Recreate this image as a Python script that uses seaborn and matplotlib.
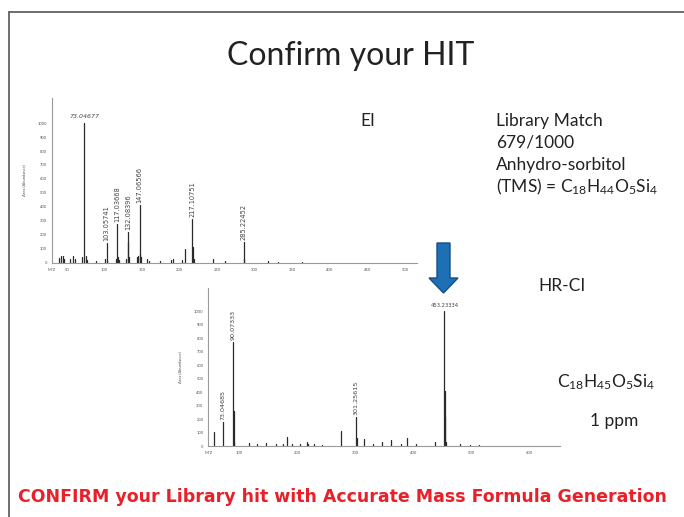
import matplotlib
matplotlib.use("Agg")
import matplotlib.pyplot as plt
import seaborn as sns
import pandas as pd
from matplotlib.patches import FancyArrow
from matplotlib.lines import Line2D

# ---------------- data ----------------
ei_mz = [40, 43, 45, 47, 55, 59, 61, 70, 73.04677, 75, 77, 89, 101, 103.05741, 104,
         116, 117.03668, 118, 119, 129, 131, 132.08396, 133, 143, 145, 147.06566, 148,
         149, 157, 160, 174, 189, 191, 204, 207, 217.10751, 218, 219, 245, 260,
         285.22452, 286, 318, 331, 363]
ei_int = [35, 50, 45, 30, 30, 45, 25, 40, 1000, 45, 20, 15, 30, 140, 20,
          30, 280, 40, 20, 30, 150, 220, 40, 40, 50, 410, 60,
          40, 25, 15, 15, 20, 25, 20, 95, 310, 110, 30, 30, 10,
          150, 30, 10, 8, 5]
ei_labels_mz = [103.05741, 117.03668, 132.08396, 147.06566, 217.10751, 285.22452]
ei_labels = ["103.05741", "117.03668", "132.08396", "147.06566", "217.10751", "285.22452"]
ei_base_label = "73.04677"
ei_base_mz = 73.04677

ci_mz = [57, 73.04685, 90.07333, 91, 92, 117, 131, 147, 163, 175, 183, 191, 205,
         217, 219, 229, 243, 275, 301.25615, 302, 315, 331, 345, 362, 379, 388,
         405, 437, 453.23334, 454, 455, 456, 480, 498, 513]
ci_int = [108, 180, 770, 262, 30, 25, 20, 25, 15, 15, 70, 20, 20,
          35, 20, 15, 10, 115, 220, 60, 55, 15, 35, 45, 20, 60,
          15, 35, 1000, 410, 220, 30, 20, 10, 8]
ci_labels_mz = [73.04685, 90.07333, 301.25615]
ci_labels = ["73.04685", "90.07333", "301.25615"]
ci_base_label = "453.23334"
ci_base_mz = 453.23334

ei_xticks = [50, 100, 150, 200, 250, 300, 350, 400, 450, 500]
ci_xticks = [100, 200, 300, 400, 500, 600]
y_ticks = [0, 100, 200, 300, 400, 500, 600, 700, 800, 900, 1000]

title = "Confirm your HIT"
footer = "CONFIRM your Library hit with Accurate Mass Formula Generation"
library_lines = ["Library Match", "679/1000", "Anhydro-sorbitol",
                 r"(TMS) = C$_{18}$H$_{44}$O$_{5}$Si$_{4}$"]
ci_formula = r"C$_{18}$H$_{45}$O$_{5}$Si$_{4}$"

# ---------------- style ----------------
sns.set_style("white")
plt.rcParams["font.family"] = ["Lato", "DejaVu Sans"]
plt.rcParams["mathtext.fontset"] = "custom"
plt.rcParams["mathtext.rm"] = "Lato"
plt.rcParams["mathtext.it"] = "Lato:italic"
plt.rcParams["mathtext.bf"] = "Lato:bold"

W, H = 684, 517
fig = plt.figure(figsize=(W / 100, H / 100), dpi=100)
fig.patch.set_facecolor("white")


def px_axes(x0, y0, x1, y1):
    return fig.add_axes([x0 / W, 1 - y1 / H, (x1 - x0) / W, (y1 - y0) / H])


def sticks(mz, inten):
    rows = []
    for i, (m, v) in enumerate(zip(mz, inten)):
        rows.append({"mz": m, "int": 0, "peak": i})
        rows.append({"mz": m, "int": v, "peak": i})
    return pd.DataFrame(rows)


def style_spectrum(ax, xlim, ylim, xticks, ylab_x):
    ax.set_xlim(*xlim)
    ax.set_ylim(*ylim)
    for s in ["top", "right"]:
        ax.spines[s].set_visible(False)
    for s in ["left", "bottom"]:
        ax.spines[s].set_color("#9a9a9a")
        ax.spines[s].set_linewidth(0.8)
    ax.set_xticks([xlim[0]] + xticks)
    ax.set_xticklabels(["M/Z"] + [str(t) for t in xticks])
    ax.set_yticks(y_ticks)
    ax.set_yticklabels([str(t) for t in y_ticks])
    ax.tick_params(axis="both", labelsize=3, colors="#555555", length=2, width=0.5,
                   pad=1.5, direction="out")
    ax.set_xlabel("")
    ax.set_ylabel("Area (Abundance)", fontsize=3, color="#555555", labelpad=ylab_x)
    ax.set_facecolor("none")


# ---------------- EI spectrum ----------------
ax1 = px_axes(51.7, 98, 417, 262.7)
sns.lineplot(data=sticks(ei_mz, ei_int), x="mz", y="int", units="peak",
             estimator=None, sort=False, color="#2a2a2a", linewidth=0.9, ax=ax1)
style_spectrum(ax1, (30, 516), (0, 1180), ei_xticks, 8)
for m, lab in zip(ei_labels_mz, ei_labels):
    v = ei_int[ei_mz.index(m)]
    ax1.text(m, v + 15, lab, rotation=90, ha="center", va="bottom",
             fontsize=4.8, color="#444444", family="DejaVu Sans")
ax1.text(ei_base_mz, 1030, ei_base_label, ha="center", va="bottom",
         fontsize=4.5, color="#444444", style="italic", family="DejaVu Sans")

# ---------------- HR-CI spectrum ----------------
ax2 = px_axes(208.3, 288, 560, 446.3)
sns.lineplot(data=sticks(ci_mz, ci_int), x="mz", y="int", units="peak",
             estimator=None, sort=False, color="#2a2a2a", linewidth=0.9, ax=ax2)
style_spectrum(ax2, (47, 652), (0, 1170), ci_xticks, 8)
for m, lab in zip(ci_labels_mz, ci_labels):
    v = ci_int[ci_mz.index(m)]
    ax2.text(m, v + 15, lab, rotation=90, ha="center", va="bottom",
             fontsize=4.6, color="#444444", family="DejaVu Sans")
ax2.text(ci_base_mz, 1025, ci_base_label, ha="center", va="bottom",
         fontsize=3.8, color="#444444", family="DejaVu Sans")

# ---------------- overlay (slide decorations) ----------------
ov = fig.add_axes([0, 0, 1, 1])
ov.set_xlim(0, W)
ov.set_ylim(H, 0)
ov.axis("off")
ov.patch.set_alpha(0)

ov.add_line(Line2D([9, 9], [12, H + 2], color="#555555", linewidth=1.2))
ov.add_line(Line2D([9, W + 2], [12, 12], color="#555555", linewidth=1.2))

ov.text(351, 56, title, ha="center", va="center", fontsize=23, color="#222222")

ov.text(368, 121, "EI", ha="center", va="center", fontsize=12.5, color="#222222")
for i, line in enumerate(library_lines):
    ov.text(496, 121 + i * 22, line, ha="left", va="center", fontsize=12.5,
            color="#222222")
ov.text(538, 286, "HR-CI", ha="left", va="center", fontsize=12.5, color="#222222")
ov.text(557, 382, ci_formula, ha="left", va="center", fontsize=12.5, color="#222222")
ov.text(590, 421, "1 ppm", ha="left", va="center", fontsize=12.5, color="#222222")

ov.add_patch(FancyArrow(443.5, 243, 0, 50, width=13, head_width=29,
                        head_length=15, length_includes_head=True,
                        facecolor="#1f6fb5", edgecolor="#154f85", linewidth=1.0))

ov.text(342, 497, footer, ha="center", va="center", fontsize=12.5,
        fontweight="bold", color="#e8202a", family="DejaVu Sans")

fig.savefig("out.png", dpi=100)
